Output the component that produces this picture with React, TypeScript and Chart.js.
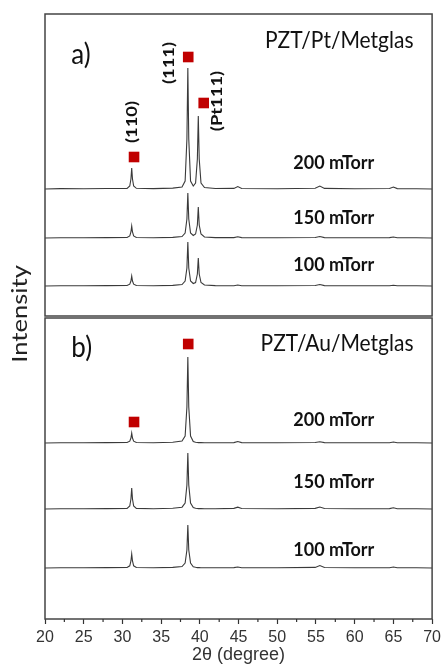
import React, { useEffect, useRef } from "react";
import { Chart, registerables } from "chart.js";

Chart.register(...registerables);

// 2θ sample positions (degree)
const twoTheta = [
  20, 22, 25, 28, 30.6, 30.95, 31.1, 31.2, 31.3, 31.45, 31.8, 34, 36.5, 37.7,
  38.1, 38.33, 38.45, 38.57, 38.8, 39.15, 39.45, 39.68, 39.8, 39.92, 40.15,
  40.6, 42, 44.4, 44.9, 45.4, 50, 54.9, 55.5, 56.1, 60, 64.5, 65.0, 65.5, 68, 70,
];

// Panel a) PZT/Pt/Metglas intensities (a.u., above each baseline)
const pztPt200 = [0, 0.4, 0.2, 0.5, 0.6, 3, 10, 21, 10, 3, 0.7, 0.4, 0.9, 2, 8, 50, 121, 50, 8, 3, 6, 30, 73, 30, 6, 1.5, 0.5, 0.6, 2.5, 0.5, 0.3, 0.7, 3, 0.6, 0.3, 0.5, 2, 0.4, 0.2, 0];
const pztPt150 = [0, 0.3, 0.3, 0.4, 0.5, 2, 6, 12, 6, 2, 0.5, 0.3, 0.6, 1.5, 5, 19, 45, 19, 5, 2.5, 4, 13, 31, 13, 4, 1, 0.4, 0.4, 1.2, 0.4, 0.2, 0.5, 1.5, 0.4, 0.2, 0.4, 1, 0.3, 0.2, 0];
const pztPt100 = [0, 0.3, 0.2, 0.4, 0.5, 1.8, 5, 10, 5, 1.8, 0.5, 0.3, 0.6, 1.5, 5, 18, 44, 18, 5, 2.5, 3.5, 12, 28, 12, 3.5, 1, 0.4, 0.3, 1, 0.3, 0.2, 0.5, 1.5, 0.4, 0.2, 0.3, 0.8, 0.3, 0.2, 0];

// Panel b) PZT/Au/Metglas intensities
const pztAu200 = [0, 0.3, 0.2, 0.4, 0.5, 1.8, 5, 10, 5, 1.8, 0.5, 0.3, 0.8, 2, 7, 36, 86, 36, 7, 1.5, 0.8, 0.5, 0.4, 0.4, 0.4, 0.3, 0.3, 0.4, 1.5, 0.4, 0.2, 0.5, 1.2, 0.4, 0.2, 0.3, 1, 0.3, 0.2, 0];
const pztAu150 = [0, 0.3, 0.2, 0.4, 0.6, 3, 10, 21, 10, 3, 0.6, 0.3, 0.7, 1.8, 6, 24, 56, 24, 6, 1.5, 0.8, 0.5, 0.4, 0.4, 0.4, 0.3, 0.3, 0.6, 1.8, 0.5, 0.2, 0.6, 2, 0.5, 0.2, 0.4, 1.2, 0.3, 0.2, 0];
const pztAu100 = [0, 0.3, 0.2, 0.4, 0.5, 2.2, 7, 14, 7, 2.2, 0.5, 0.3, 0.6, 1.5, 5, 18, 43, 18, 5, 1.3, 0.7, 0.4, 0.4, 0.4, 0.3, 0.3, 0.3, 0.4, 1, 0.3, 0.2, 0.6, 2.5, 0.5, 0.2, 0.3, 1, 0.3, 0.2, 0];

// vertical offsets of the stacked patterns (200, 150, 100 mTorr)
const offsetsPt = [430, 381, 333];
const offsetsAu = [176, 110, 51];
const pressures = ["200 mTorr", "150 mTorr", "100 mTorr"];

// PZT peak markers [2θ, y]
const markersPt = [[31.5, 462], [38.5, 562], [40.5, 516]];
const markersAu = [[31.5, 197], [38.5, 275]];

const xTicks = [20, 25, 30, 35, 40, 45, 50, 55, 60, 65, 70];
const xMinorTicks = [22.5, 27.5, 32.5, 37.5, 42.5, 47.5, 52.5, 57.5, 62.5, 67.5];

// panel split in y-units
const yTotal = 605;
const ySplit = 302;

const ink = "#333333";

type Note = { text: string; x: number; y: number; size: number; bold: boolean; align: CanvasTextAlign; stretch: number; rotate?: boolean };

const notes: Note[] = [
  { text: "a)", x: 23.4, y: 564, size: 26, bold: false, align: "left", stretch: 1.12 },
  { text: "PZT/Pt/Metglas", x: 67.6, y: 579, size: 21, bold: false, align: "right", stretch: 1.12 },
  { text: "b)", x: 23.4, y: 271, size: 26, bold: false, align: "left", stretch: 1.12 },
  { text: "PZT/Au/Metglas", x: 67.6, y: 276, size: 21, bold: false, align: "right", stretch: 1.12 },
  { text: pressures[0], x: 57.3, y: 456, size: 18, bold: true, align: "center", stretch: 1.05 },
  { text: pressures[1], x: 57.3, y: 401, size: 18, bold: true, align: "center", stretch: 1.05 },
  { text: pressures[2], x: 57.3, y: 354, size: 18, bold: true, align: "center", stretch: 1.05 },
  { text: pressures[0], x: 57.3, y: 199, size: 18, bold: true, align: "center", stretch: 1.05 },
  { text: pressures[1], x: 57.3, y: 137, size: 18, bold: true, align: "center", stretch: 1.05 },
  { text: pressures[2], x: 57.3, y: 69, size: 18, bold: true, align: "center", stretch: 1.05 },
  { text: "(110)", x: 31.28, y: 497, size: 16, bold: true, align: "center", stretch: 1.15, rotate: true },
  { text: "(111)", x: 36.0, y: 556, size: 16, bold: true, align: "center", stretch: 1.15, rotate: true },
  { text: "(Pt111)", x: 42.2, y: 518, size: 16, bold: true, align: "center", stretch: 1.15, rotate: true },
];

const decorPlugin = {
  id: "decor",
  afterDraw(chart: any) {
    const ctx = chart.ctx as CanvasRenderingContext2D;
    const xs = chart.scales.x;
    const ys = chart.scales.y;
    const left = xs.left;
    const right = xs.right;
    const top = ys.getPixelForValue(yTotal);
    const mid = ys.getPixelForValue(ySplit);
    const bottom = ys.getPixelForValue(0);
    ctx.save();
    // panel frames
    ctx.strokeStyle = "#444";
    ctx.lineWidth = 1.5;
    ctx.strokeRect(left, top, right - left, mid - top - 1);
    ctx.strokeRect(left, mid + 1, right - left, bottom - mid - 1);
    // minor ticks
    ctx.lineWidth = 1.2;
    ctx.strokeStyle = ink;
    ctx.beginPath();
    for (const v of xMinorTicks) {
      const px = xs.getPixelForValue(v);
      ctx.moveTo(px, bottom);
      ctx.lineTo(px, bottom + 3);
    }
    ctx.stroke();
    // annotations
    ctx.fillStyle = "#111";
    ctx.textBaseline = "middle";
    for (const n of notes) {
      const px = xs.getPixelForValue(n.x);
      const py = ys.getPixelForValue(n.y);
      ctx.font = `${n.bold ? "bold " : ""}${n.size}px Lato, "Open Sans", sans-serif`;
      ctx.textAlign = n.align;
      ctx.save();
      ctx.translate(px, py);
      ctx.scale(1, n.stretch);
      if (n.rotate) ctx.rotate(-Math.PI / 2);
      ctx.fillText(n.text, 0, 0);
      ctx.restore();
    }
    // y title
    ctx.save();
    ctx.translate(20, 314);
    ctx.scale(1, 1.22);
    ctx.rotate(-Math.PI / 2);
    ctx.font = `21px Lato, "Open Sans", sans-serif`;
    ctx.textAlign = "center";
    ctx.textBaseline = "middle";
    ctx.fillStyle = "#222";
    ctx.fillText("Intensity", 0, 0);
    ctx.restore();
    ctx.restore();
  },
};

export default function App() {
  const ref = useRef<HTMLCanvasElement>(null);
  useEffect(() => {
    if (!ref.current) return;
    const lineDs = (vals: number[], base: number) => ({
      type: "line" as const,
      data: twoTheta.map((x, i) => ({ x, y: base + vals[i] })),
      borderColor: "#3a3a3a",
      borderWidth: 1.1,
      pointRadius: 0,
      tension: 0,
      fill: false,
    });
    const markerDs = (pts: number[][]) => ({
      type: "scatter" as const,
      data: pts.map(([x, y]) => ({ x, y })),
      pointStyle: "rect",
      pointRadius: 7.5,
      pointBackgroundColor: "#c00000",
      pointBorderWidth: 0,
      showLine: false,
    });
    const seriesPt = [pztPt200, pztPt150, pztPt100];
    const seriesAu = [pztAu200, pztAu150, pztAu100];
    const datasets: any[] = [
      ...seriesPt.map((s, i) => lineDs(s, offsetsPt[i])),
      ...seriesAu.map((s, i) => lineDs(s, offsetsAu[i])),
      markerDs(markersPt),
      markerDs(markersAu),
    ];
    const chart = new Chart(ref.current, {
      type: "line",
      data: { datasets },
      options: {
        animation: false,
        responsive: false,
        layout: { padding: { left: 45, right: 10, top: 14, bottom: 0 } },
        plugins: { legend: { display: false }, tooltip: { enabled: false } },
        scales: {
          x: {
            type: "linear",
            min: 20,
            max: 70,
            afterBuildTicks: (s: any) => {
              s.ticks = xTicks.map((v) => ({ value: v }));
            },
            ticks: {
              color: ink,
              font: { family: "'Liberation Sans', Arial, sans-serif", size: 16 },
              padding: 4,
              maxRotation: 0,
              autoSkip: false,
            },
            grid: { drawOnChartArea: false, drawTicks: true, tickLength: 5, tickColor: ink, tickWidth: 1.2 },
            border: { display: false },
            title: {
              display: true,
              text: "2θ (degree)",
              color: ink,
              font: { family: "'Liberation Sans', Arial, sans-serif", size: 18 },
              padding: { top: 0, bottom: 0 },
            },
            afterFit: (s: any) => {
              s.height = 47;
            },
          },
          y: { display: false, min: 0, max: yTotal },
        },
      },
      plugins: [decorPlugin],
    });
    return () => chart.destroy();
  }, []);
  return (
    <div style={{ position: "absolute", left: 0, top: 0, width: 445, height: 666, background: "#fff" }}>
      <canvas ref={ref} width={445} height={666} style={{ display: "block" }} />
    </div>
  );
}
